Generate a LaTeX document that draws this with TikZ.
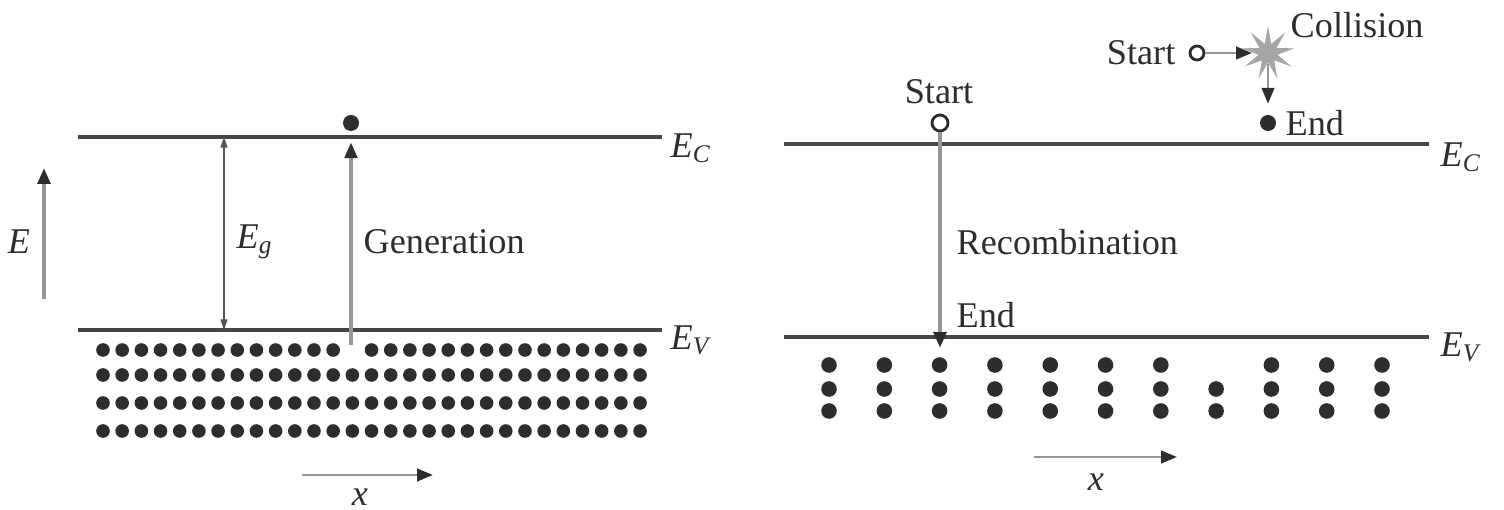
\documentclass[tikz,border=0pt]{standalone}
\usepackage{fontspec}
\setmainfont{Liberation Serif}
\usetikzlibrary{arrows.meta,shapes.geometric}
\definecolor{lvl}{RGB}{70,70,70}
\definecolor{ink}{RGB}{45,45,45}
\definecolor{ray}{RGB}{150,150,150}
\tikzset{
  level/.style={draw=lvl,line width=1.3pt},
  ray/.style={draw=ray,line width=1.2pt,-{Triangle[length=4.5pt,width=3.5pt,color=ink]}},
  fineray/.style={draw=ray,line width=0.8pt,-{Triangle[length=4.5pt,width=3.5pt,color=ink]}},
  gaparrow/.style={draw=ink!80,line width=0.4pt,{Triangle[length=3pt,width=2pt]}-{Triangle[length=3pt,width=2pt]}},
  edot/.style={circle,fill=ink,inner sep=0pt,minimum size=0.16cm},
  hole/.style={circle,draw=ink,line width=0.8pt,fill=white,inner sep=0pt,minimum size=0.16cm},
  burst/.style={star,star points=9,star point ratio=2.8,fill=ray!85,inner sep=0pt,minimum size=0.54cm},
  lbl/.style={text=ink,font=\fontsize{10.3}{12}\selectfont,inner sep=0pt}
}
\begin{document}
\begin{tikzpicture}[x=0.01cm,y=-0.01cm]
  \useasboundingbox (0,0) rectangle (1504,510);
  % generation
  \coordinate (c0) at (78,137);
  \coordinate (c1) at (662,137);
  \coordinate (v0) at (78,330);
  \coordinate (v1) at (662,330);
  \draw[level] (c0) -- (c1);
  \draw[level] (v0) -- (v1);
  \node[lbl,anchor=west] at (670,148) (ec0) {\textit{E}\textsubscript{\textit{C}}};
  \node[lbl,anchor=west] at (670,340) (ev0) {\textit{E}\textsubscript{\textit{V}}};
  \foreach \c in {0,...,12,14,15,...,28} \fill[ink] ({103+\c*19.18},350) circle (0.068cm);
  \foreach \y in {375,403,431} \foreach \c in {0,...,28} \fill[ink] ({103+\c*19.18},\y) circle (0.068cm);
  \coordinate (g0) at (351,345);
  \node[edot] at (351,123) (el) {};
  \draw[ray,shorten >=3pt] (g0) -- (el);
  \node[lbl,anchor=west] at (363,242) (lgen) {Generation};
  \coordinate (gt) at (224,137);
  \coordinate (gb) at (224,330);
  \draw[gaparrow] (gt) -- (gb);
  \node[lbl,anchor=west] at (236,242) (leg) {\textit{E}\textsubscript{\textit{g}}};
  \coordinate (e0) at (44,299);
  \coordinate (e1) at (44,168);
  \draw[ray] (e0) -- (e1);
  \node[lbl] at (19,242) (le) {\textit{E}};
  \coordinate (x0) at (302,475);
  \coordinate (x1) at (433,475);
  \draw[fineray] (x0) -- (x1);
  \node[lbl] at (360,497) (lx0) {\textit{x}};
  % recombination and collision
  \coordinate (c2) at (784,144);
  \coordinate (c3) at (1429,144);
  \coordinate (v2) at (784,337);
  \coordinate (v3) at (1429,337);
  \draw[level] (c2) -- (c3);
  \draw[level] (v2) -- (v3);
  \node[lbl,anchor=west] at (1440,157) (ec1) {\textit{E}\textsubscript{\textit{C}}};
  \node[lbl,anchor=west] at (1440,347) (ev1) {\textit{E}\textsubscript{\textit{V}}};
  \foreach \c in {0,...,6,8,9,10} \fill[ink] ({829+\c*55.3},365) circle (0.078cm);
  \foreach \y in {389,411} \foreach \c in {0,...,10} \fill[ink] ({829+\c*55.3},\y) circle (0.078cm);
  \node[hole] at (940,123) (rs) {};
  \node[lbl] at (939,92) (lrs) {Start};
  \coordinate (re) at (940,348);
  \draw[ray] (rs) -- (re);
  \node[lbl,anchor=west] at (956,242) (lrec) {Recombination};
  \node[lbl,anchor=west] at (956,315) (lre) {End};
  \node[hole,minimum size=0.14cm] at (1197,53) (cs) {};
  \node[lbl,anchor=east] at (1176,53) (lcs) {Start};
  \node[burst] at (1268,53) (coll) {};
  \node[lbl,anchor=west] at (1290,25) (lcoll) {Collision};
  \node[edot] at (1268,123) (ce) {};
  \node[lbl,anchor=west] at (1285,123) (lce) {End};
  \draw[fineray] (cs) -- (coll);
  \draw[fineray,shorten >=3pt] (coll) -- (ce);
  \coordinate (x2) at (1034,457);
  \coordinate (x3) at (1177,457);
  \draw[fineray] (x2) -- (x3);
  \node[lbl] at (1096,482) (lx1) {\textit{x}};
\end{tikzpicture}
\end{document}
